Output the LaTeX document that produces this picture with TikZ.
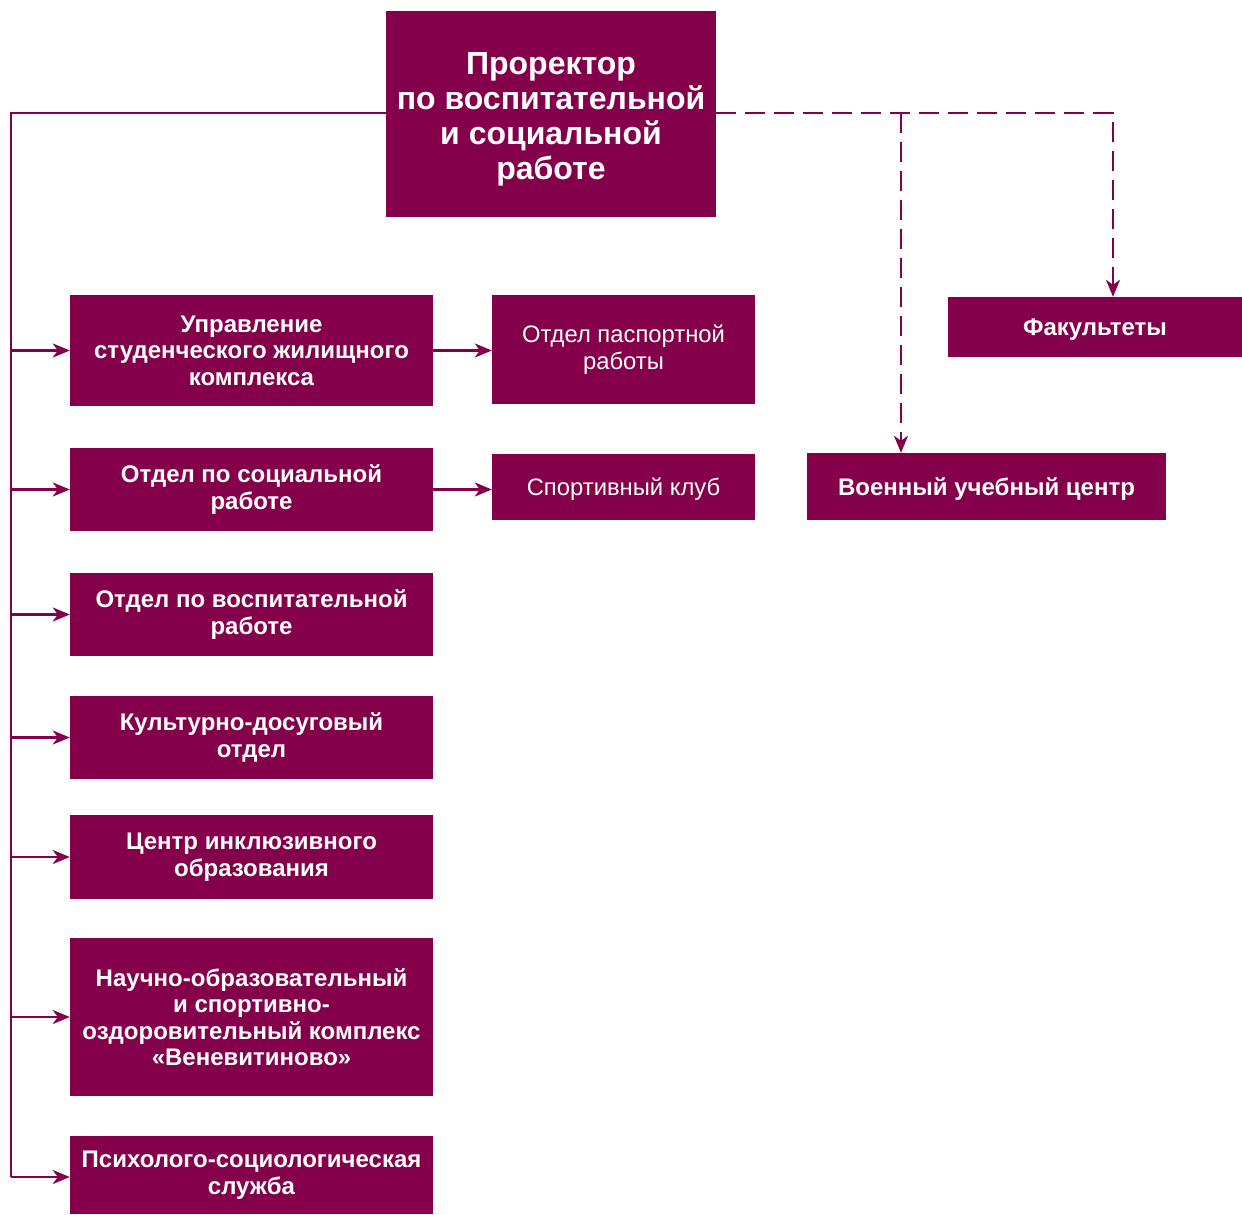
\documentclass[tikz,border=0pt]{standalone}
\usepackage{fontspec}
\setmainfont{Liberation Sans}
\usetikzlibrary{arrows.meta}
\definecolor{wine}{HTML}{85004A}
\begin{document}
\begin{tikzpicture}
  [x=1pt,y=-1pt,
   every node/.style={fill=wine,text=white,align=center,inner sep=0pt,
     font=\bfseries\fontsize{24}{26.5}\selectfont},
   unit/.style={minimum width=363pt},
   thin/.style={font=\fontsize{23.8}{26.5}\selectfont},
   oneline/.style={text depth=0pt},
   link/.style={wine,line width=2.3pt,-{Stealth[length=17pt,width=14pt,inset=5pt]}}]
  \useasboundingbox (0,0) rectangle (1242,1215);
  \node[minimum width=330pt,minimum height=206pt,
    font=\bfseries\fontsize{32}{35}\selectfont] (head) at (551,114)
    {\rule{0pt}{33pt}Проректор\\по воспитательной\\и социальной\\работе};
  \node[unit,minimum height=111pt] (b1) at (251.5,350.5) {Управление\\студенческого жилищного\\комплекса};
  \node[unit,minimum height=83pt]  (b2) at (251.5,489.5) {Отдел по социальной\\работе};
  \node[unit,minimum height=83pt]  (b3) at (251.5,614.5) {Отдел по воспитательной\\работе};
  \node[unit,minimum height=83pt]  (b4) at (251.5,737.5) {Культурно-досуговый\\отдел};
  \node[unit,minimum height=84pt]  (b5) at (251.5,857)   {Центр инклюзивного\\образования};
  \node[unit,minimum height=158pt] (b6) at (251.5,1017)  {Научно-образовательный\\и спортивно-\\оздоровительный комплекс\\«Веневитиново»};
  \node[unit,minimum height=78pt]  (b7) at (251.5,1175)  {Психолого-социологическая\\служба};
  \node[thin,minimum width=263pt,minimum height=109pt] (pass) at (623.5,349.5) {Отдел паспортной\\работы};
  \node[thin,oneline,minimum width=263pt,minimum height=66pt] (club) at (623.5,487) {Спортивный клуб};
  \node[oneline,minimum width=294pt,minimum height=60pt] (fac) at (1095,327) {Факультеты};
  \node[oneline,minimum width=359pt,minimum height=67pt] (mil) at (986.5,486.5) {Военный учебный центр};
  \coordinate (rail) at (11,113);
  \coordinate (railend) at (11,1177);
  \coordinate (fork) at (901,113);
  \coordinate (bend) at (1113,113);
  % left rail
  \draw[wine,line width=2.3pt] (head.west |- rail) -- (rail) -- (railend);
  \foreach \to in {b1,b2,b3,b4,b5,b6}
    \draw[link] (rail |- \to.west) -- (\to.west);
  \draw[link] (railend) -- (b7.west |- railend);
  \draw[link] (b1.east) -- (pass.west |- b1.east);
  \draw[link] (b2.east) -- (club.west |- b2.east);
  % dashed branch
  \draw[link,dash pattern=on 20pt off 9pt] (head.east |- bend) -- (bend) -- (bend |- fac.north);
  \draw[link,dash pattern=on 20pt off 9pt] (fork) -- (fork |- mil.north);
\end{tikzpicture}
\end{document}
